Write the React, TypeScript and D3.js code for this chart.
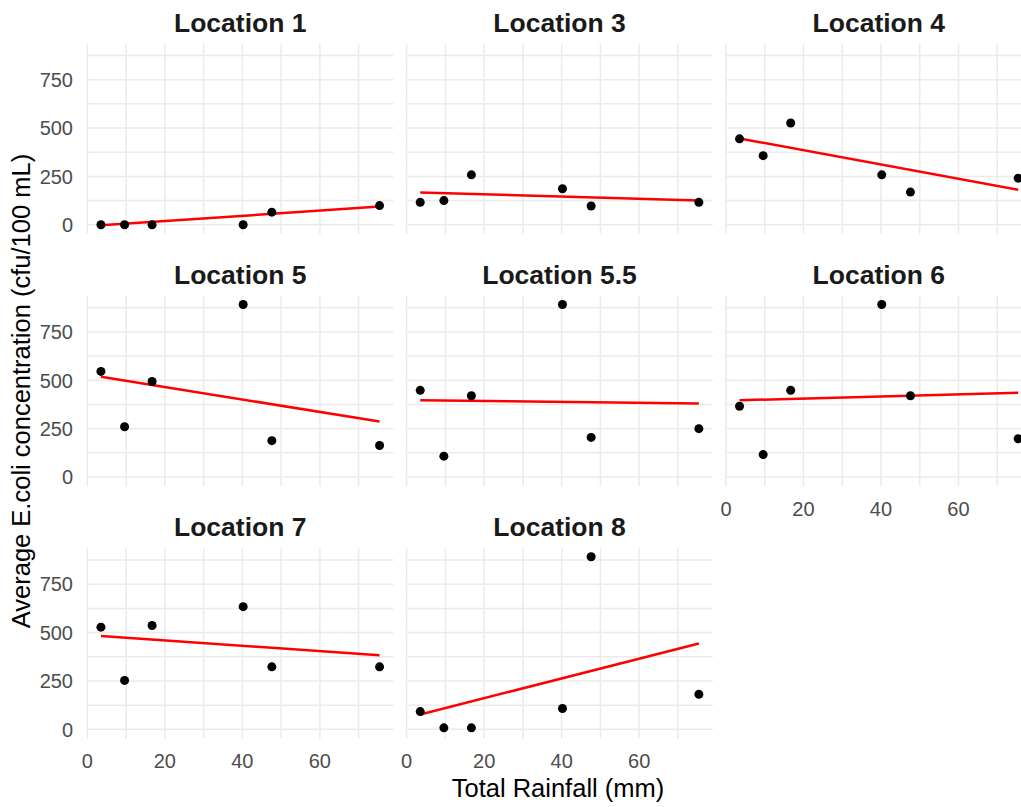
import React from 'react'
import * as d3 from 'd3'

// facets, in facet_wrap order (3 columns)
const locations = ['Location 1', 'Location 3', 'Location 4', 'Location 5', 'Location 5.5', 'Location 6', 'Location 7', 'Location 8']

// total rainfall (mm) for each sampling date
const rainfall = [3.5, 9.6, 16.7, 40.2, 47.6, 75.4]

// average E.coli (cfu/100 mL) per location, same order as rainfall
const loc1 = [0, 0, 0, 0, 65, 99]
const loc3 = [116, 125, 258, 186, 97, 116]
const loc4 = [444, 357, 526, 258, 169, 241]
const loc5 = [546, 260, 494, 892, 188, 163]
const loc55 = [448, 108, 420, 892, 205, 250]
const loc6 = [366, 116, 448, 892, 420, 198]
const loc7 = [528, 253, 537, 634, 323, 323]
const loc8 = [92, 8, 8, 108, 892, 181]
const ecoli = [loc1, loc3, loc4, loc5, loc55, loc6, loc7, loc8]

// lm fit value at min and max rainfall
const fitStart = [-3, 167, 446, 518, 397, 397, 482, 77]
const fitEnd = [94, 125, 181, 287, 380, 436, 383, 444]

const xTicks = [0, 20, 40, 60]
const xMinor = [10, 30, 50, 70]
const yTicks = [0, 250, 500, 750]
const yMinor = [125, 375, 625, 875]

const W = 1021, H = 807
const left = 87, panelW = 306.5, colStep = 319.3
const top = 43.5, panelH = 190.5, rowStep = 252.3
const nCol = 3

const font = 'Liberation Sans, Arial, sans-serif'
const grid = '#ebebeb'

// ggplot style 5% expansion
const expand = (ext: number[]) => {
  const r = ext[1] - ext[0]
  return [ext[0] - r * 0.05, ext[1] + r * 0.05]
}

const App = () => {
  const allY = ecoli.flat().concat(fitStart, fitEnd)
  const x = d3.scaleLinear().domain(expand(d3.extent(rainfall) as number[])).range([0, panelW])
  const y = d3.scaleLinear().domain(expand(d3.extent(allY) as number[])).range([panelH, 0])
  const xr = d3.extent(rainfall) as number[]
  const nRow = Math.ceil(locations.length / nCol)
  const line = d3.line<number[]>().x(d => x(d[0])).y(d => y(d[1]))

  return (
    <div style={{ position: 'fixed', left: 0, top: 0, width: W, height: H, background: '#fff' }}>
      <svg width={W} height={H} style={{ display: 'block' }}>
        {locations.map((name, i) => {
          const col = i % nCol, row = Math.floor(i / nCol)
          const px = left + col * colStep, py = top + row * rowStep
          // bottom panel in its column gets the x axis labels
          const showX = i + nCol >= locations.length
          const pts = rainfall.map((r, j) => [r, ecoli[i][j]])
          return (
            <g key={name} transform={`translate(${px},${py})`}>
              {yMinor.concat(yTicks).map(t => (
                <line key={'y' + t} x1={0} x2={panelW} y1={y(t)} y2={y(t)} stroke={grid} strokeWidth={1.5} />
              ))}
              {xMinor.concat(xTicks).map(t => (
                <line key={'x' + t} x1={x(t)} x2={x(t)} y1={0} y2={panelH} stroke={grid} strokeWidth={1.5} />
              ))}
              <path d={line([[xr[0], fitStart[i]], [xr[1], fitEnd[i]]]) || ''} stroke="#ff0000" strokeWidth={2.5} fill="none" />
              {pts.map((d, j) => (
                <circle key={j} cx={x(d[0])} cy={y(d[1])} r={4.5} fill="#000" />
              ))}
              <text x={panelW / 2} y={-11.8} textAnchor="middle" fontFamily={font} fontWeight="bold" fontSize={26.5} fill="#1a1a1a">{name}</text>
              {col === 0 && yTicks.map(t => (
                <text key={'yl' + t} x={-14} y={y(t)} dy="0.36em" textAnchor="end" fontFamily={font} fontSize={20} fill="#4d4d4d">{t}</text>
              ))}
              {showX && xTicks.map(t => (
                <text key={'xl' + t} x={x(t)} y={panelH + 29.5} textAnchor="middle" fontFamily={font} fontSize={20} fill="#4d4d4d">{t}</text>
              ))}
            </g>
          )
        })}
        <text x={558} y={797} textAnchor="middle" fontFamily={font} fontSize={25.5} fill="#000">Total Rainfall (mm)</text>
        <text transform={`translate(30,${top + ((nRow - 1) * rowStep + panelH) / 2}) rotate(-90)`} textAnchor="middle" fontFamily={font} fontSize={25.5} fill="#000">Average E.coli concentration (cfu/100 mL)</text>
      </svg>
    </div>
  )
}

export default App
